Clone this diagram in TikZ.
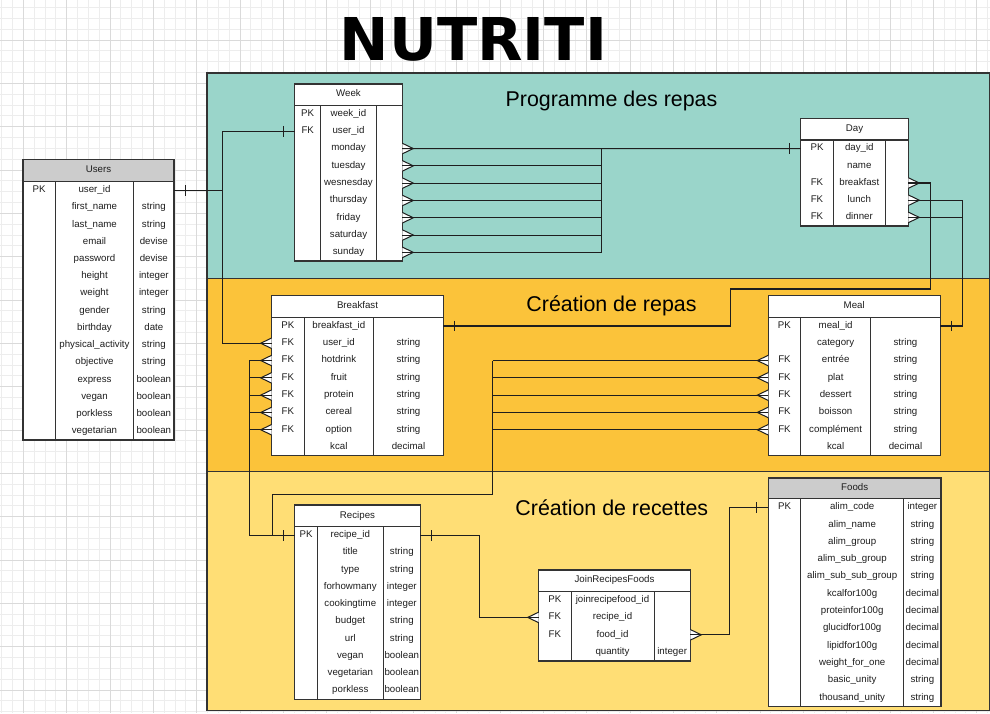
\documentclass[tikz,border=0pt]{standalone}
\usepackage{fontspec}
\setmainfont{Liberation Sans}
\newfontfamily\titlefont{DejaVu Sans}
\usetikzlibrary{calc}
\definecolor{secA}{HTML}{9AD5CA}
\definecolor{secB}{HTML}{FBC33A}
\definecolor{secC}{HTML}{FFDE75}
\definecolor{gridminor}{HTML}{EDEDED}
\definecolor{gridmajor}{HTML}{DADADA}
\definecolor{hdrgray}{HTML}{CCCCCC}
\definecolor{ink}{HTML}{1E1E1E}
\definecolor{edgecol}{HTML}{333333}
\tikzset{
  erhead/.style={draw=edgecol, line width=1.2pt, inner sep=0pt, outer sep=0pt},
  erbox/.style={draw=edgecol, line width=1.2pt, fill=white},
  erdiv/.style={draw=edgecol, line width=1pt},
  errow/.style={inner sep=0pt, outer sep=0pt},
  ercell/.style={inner sep=0pt, outer sep=0pt, anchor=base, font=\fontsize{9.7}{11}\selectfont, text=ink},
  rel/.style={draw=ink, line width=1.1pt},
  crowfoot/.style={draw=ink, fill=white, line width=1pt, line join=miter},
  sectitle/.style={anchor=base, font=\fontsize{21.4}{24}\selectfont, text=black},
  secframe/.style={draw=edgecol, line width=1.4pt},
}
\def\erRH{17.3}
% #1 name, #2 xL, #3 xA, #4 xB, #5 xR, #6 yTop, #7 yHeaderBottom, #8 header fill, #9 title
\newcommand\erTable[9]{%
  \pgfmathsetmacro\erW{#5-#2}%
  \pgfmathsetmacro\erHh{#7-#6}%
  \pgfmathsetmacro\erXm{(#2+#5)/2}%
  \pgfmathsetmacro\erYh{(#6+#7)/2+2.3}%
  \foreach \erK/\erN/\erT [count=\i] in \erRows {\xdef\erLast{\i}}%
  \pgfmathsetmacro\erYb{#7+\erRH*\erLast}%
  \draw[erbox] (#2,#7) rectangle (#5,\erYb);
  \draw[erdiv] (#3,#7) -- (#3,\erYb) (#4,#7) -- (#4,\erYb);
  \node[erhead, fill=#8, minimum width=\erW, minimum height=\erHh, anchor=north west] (#1) at (#2,#6) {};
  \node[ercell] (#1-title) at (\erXm,\erYh) {#9};
  \foreach \erK/\erN/\erT [count=\i] in \erRows {%
    \pgfmathsetmacro\erYc{#7+\erRH*(\i-0.5)}%
    \node[errow, minimum width=\erW, minimum height=\erRH] (#1-\i) at (\erXm,\erYc) {};
    \node[ercell] (#1-\i-k) at ({(#2+#3)/2},\erYc+2.3) {\erK};
    \node[ercell] (#1-\i-n) at ({(#3+#4)/2},\erYc+2.3) {\erN};
    \node[ercell] (#1-\i-t) at ({(#4+#5)/2},\erYc+2.3) {\erT};
  }%
}
\newcommand\crowR[1]{\filldraw[crowfoot] (#1) ++(0,-5.3) -- ++(11,5.3) -- ++(-11,5.3);}
\newcommand\crowL[1]{\filldraw[crowfoot] (#1) ++(0,-5.3) -- ++(-11,5.3) -- ++(11,5.3);}
\newcommand\tickR[1]{\draw[rel] (#1) ++(11.4,-5.3) -- ++(0,10.6);}
\newcommand\tickL[1]{\draw[rel] (#1) ++(-11.4,-5.3) -- ++(0,10.6);}
\begin{document}
\begin{tikzpicture}[x=1pt,y=-1pt]
\useasboundingbox (0,0) rectangle (990,713);
% grid background
\fill[white] (0,0) rectangle (990,713);
\begin{scope}
\clip (0,0) rectangle (990,713);
\foreach \j in {-3,...,91} {\pgfmathsetmacro\gx{23.333+10.8333*\j}\draw[gridminor, line width=0.8pt] (\gx,0) -- (\gx,713);}
\foreach \j in {-4,...,63} {\pgfmathsetmacro\gy{40+10.8333*\j}\draw[gridminor, line width=0.8pt] (0,\gy) -- (990,\gy);}
\foreach \j in {-1,...,22} {\pgfmathsetmacro\gx{23.333+43.333*\j}\draw[gridmajor, line width=1pt] (\gx,0) -- (\gx,713);}
\foreach \j in {-1,...,16} {\pgfmathsetmacro\gy{40+43.333*\j}\draw[gridmajor, line width=1pt] (0,\gy) -- (990,\gy);}
\end{scope}
% title
\node[anchor=base, font=\titlefont\bfseries\fontsize{59}{60}\selectfont, text=black] (title) at (473.5,60) {NUTRITI};
% sections
\fill[secA] (207,73) rectangle (989.3,278.3);
\fill[secB] (207,278.3) rectangle (989.3,471.7);
\fill[secC] (207,471.7) rectangle (989.3,710.7);
\draw[secframe] (207,73) rectangle (989.3,710.7);
\draw[secframe] (207,278.3) -- (989.3,278.3) (207,471.7) -- (989.3,471.7);
\node[sectitle] (s1) at (611.5,106.7) {Programme des repas};
\node[sectitle] (s2) at (611.5,311.7) {Création de repas};
\node[sectitle] (s3) at (611.8,515.7) {Création de recettes};
% tables
\def\erRH{17.22}
\def\erRows{PK/user\_id/{}, {}/first\_name/string, {}/last\_name/string, {}/email/devise, {}/password/devise, {}/height/integer, {}/weight/integer, {}/gender/string, {}/birthday/date, {}/physical\_activity/string, {}/objective/string, {}/express/boolean, {}/vegan/boolean, {}/porkless/boolean, {}/vegetarian/boolean}
\erTable{users}{23}{55.3}{133.7}{174}{159.3}{181.7}{hdrgray}{Users}
\def\erRH{17.3}
\def\erRows{PK/week\_id/{}, FK/user\_id/{}, {}/monday/{}, {}/tuesday/{}, {}/wesnesday/{}, {}/thursday/{}, {}/friday/{}, {}/saturday/{}, {}/sunday/{}}
\erTable{week}{294.7}{320.7}{376.3}{402.3}{84}{105.3}{white}{Week}
\def\erRH{17.2}
\def\erRows{PK/day\_id/{}, {}/name/{}, FK/breakfast/{}, FK/lunch/{}, FK/dinner/{}}
\erTable{day}{800.7}{833.3}{885.3}{908.3}{118.7}{140}{white}{Day}
\def\erRH{17.3}
\def\erRows{PK/breakfast\_id/{}, FK/user\_id/string, FK/hotdrink/string, FK/fruit/string, FK/protein/string, FK/cereal/string, FK/option/string, {}/kcal/decimal}
\erTable{breakfast}{271.7}{304}{373.7}{443.3}{295.7}{317.3}{white}{Breakfast}
\def\erRows{PK/meal\_id/{}, {}/category/string, FK/entrée/string, FK/plat/string, FK/dessert/string, FK/boisson/string, FK/complément/string, {}/kcal/decimal}
\erTable{meal}{768.3}{800.6}{870.7}{940.2}{295.7}{317.3}{white}{Meal}
\def\erRH{17.26}
\def\erRows{PK/recipe\_id/{}, {}/title/string, {}/type/string, {}/forhowmany/integer, {}/cookingtime/integer, {}/budget/string, {}/url/string, {}/vegan/boolean, {}/vegetarian/boolean, {}/porkless/boolean}
\erTable{recipes}{294.7}{317.3}{383.3}{420.3}{505}{526.7}{white}{Recipes}
\def\erRH{17.4}
\def\erRows{PK/joinrecipefood\_id/{}, FK/recipe\_id/{}, FK/food\_id/{}, {}/quantity/integer}
\erTable{join}{538.7}{571}{654}{690.3}{570}{591.3}{white}{JoinRecipesFoods}
\def\erRH{17.33}
\def\erRows{PK/alim\_code/integer, {}/alim\_name/string, {}/alim\_group/string, {}/alim\_sub\_group/string, {}/alim\_sub\_sub\_group/string, {}/kcalfor100g/decimal, {}/proteinfor100g/decimal, {}/glucidfor100g/decimal, {}/lipidfor100g/decimal, {}/weight\_for\_one/decimal, {}/basic\_unity/string, {}/thousand\_unity/string}
\erTable{foods}{768.3}{800.7}{903.7}{941}{478}{498.7}{hdrgray}{Foods}
% crow's feet
\foreach \i in {3,...,9} {\crowR{week-\i.east}}
\foreach \i in {3,4,5} {\crowR{day-\i.east}}
\foreach \i in {2,...,7} {\crowL{breakfast-\i.west}}
\foreach \i in {3,...,7} {\crowL{meal-\i.west}}
\crowL{join-2.west}
\crowR{join-3.east}
% bus coordinates
\coordinate (busU) at (222.3,0);
\coordinate (busW) at (601.7,0);
\coordinate (busD1) at (930.7,289);
\coordinate (busD1b) at (730.8,0);
\coordinate (busD2) at (962.6,0);
\coordinate (busB) at (249.3,0);
\coordinate (busM) at (492.6,494.3);
\coordinate (busM2) at (272.3,0);
\coordinate (busR) at (479.3,0);
\coordinate (busJ) at (729.3,0);
% connectors
\draw[rel] (users-1.east) -- (users-1.east -| busU) |- (week-2.west);
\draw[rel] (users-1.east -| busU) |- (breakfast-2.west);
\foreach \i in {3,...,9} {\draw[rel] (week-\i.east) -- (week-\i.east -| busW);}
\draw[rel] (week-3.east -| busW) -- (week-9.east -| busW);
\draw[rel] (week-3.east) -- (day-1.west);
\draw[rel] (day-3.east) -| (busD1) -- (busD1 -| busD1b) |- (breakfast-1.east);
\draw[rel] (day-4.east) -- (day-4.east -| busD2) |- (meal-1.east);
\draw[rel] (day-5.east) -- (day-5.east -| busD2);
\foreach \i in {3,...,7} {\draw[rel] (breakfast-\i.west) -- (breakfast-\i.west -| busB);}
\draw[rel] (breakfast-3.west -| busB) |- (recipes-1.west);
\foreach \i in {3,...,7} {\draw[rel] (meal-\i.west) -- (meal-\i.west -| busM);}
\draw[rel] (meal-3.west -| busM) -- (busM) -- (busM -| busM2) -- (recipes-1.west -| busM2);
\draw[rel] (recipes-1.east) -- (recipes-1.east -| busR) |- (join-2.west);
\draw[rel] (join-3.east) -- (join-3.east -| busJ) |- (foods-1.west);
% one-marks
\tickR{users-1.east}
\tickL{week-2.west}
\tickL{day-1.west}
\tickR{breakfast-1.east}
\tickR{meal-1.east}
\tickL{recipes-1.west}
\tickR{recipes-1.east}
\tickL{foods-1.west}
\end{tikzpicture}
\end{document}
